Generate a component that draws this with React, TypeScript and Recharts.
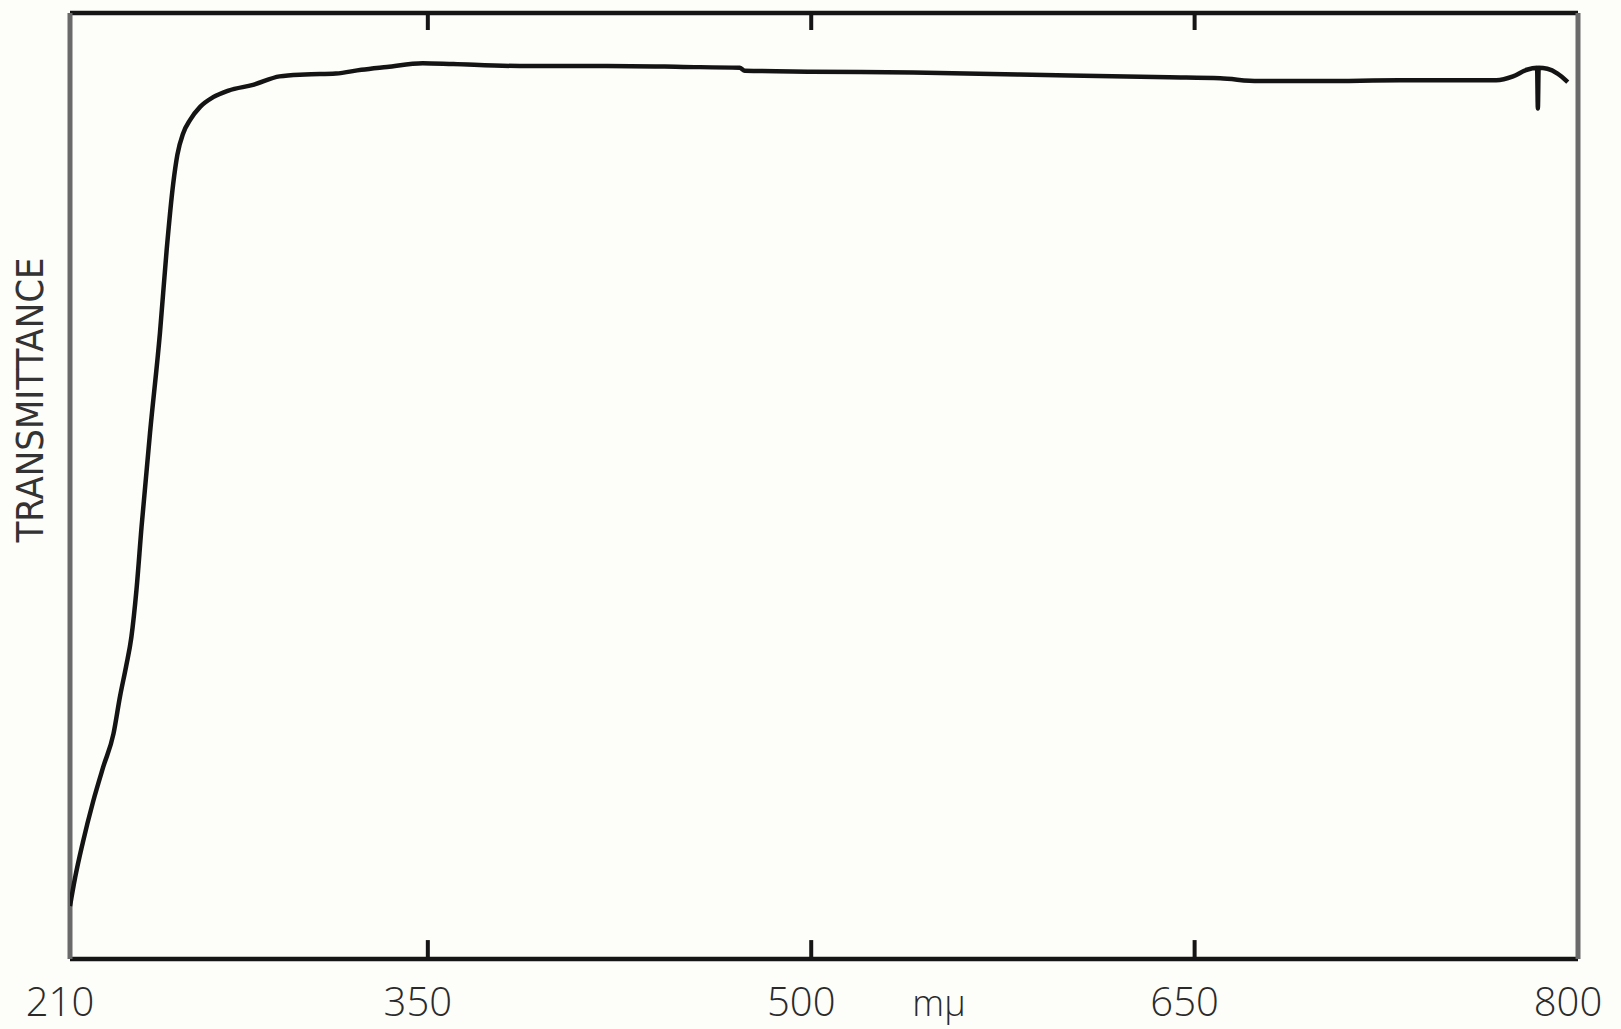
import React from 'react';
import { LineChart, Line, XAxis, YAxis, ReferenceLine } from 'recharts';

// wavelength (mμ) and transmittance
const wavelengths = [
  210, 212, 215, 219, 223, 227, 229.6, 232, 234, 236, 238, 241.3, 245.2, 247.8, 250.4, 252, 254.3,
  257, 261, 266, 272, 281.6, 292, 302, 314, 324, 334, 348, 360, 386, 420, 450, 472, 474, 500, 540,
  601, 640, 660, 675, 700, 730, 768, 774.6, 780, 784, 784.3, 784.6, 788, 792, 796,
];
const transmittance = [
  5.6, 8.6, 12.3, 16.6, 20.3, 23.8, 27.8, 31, 34, 39, 45.7, 55.6, 66.2, 74.9, 82, 85, 87.3,
  88.7, 90.1, 91.1, 91.8, 92.4, 93.3, 93.5, 93.6, 94.0, 94.3, 94.7, 94.6, 94.4, 94.4, 94.3, 94.2, 93.9, 93.8, 93.7,
  93.4, 93.2, 93.1, 92.8, 92.8, 92.9, 92.9, 93.3, 94.0, 94.2, 89.9, 94.2, 94.1, 93.6, 92.7,
];
const xTicks = [210, 350, 500, 650, 800];
const innerTicks = [350, 500, 650];
const yTitle = 'TRANSMITTANCE';
const xUnit = 'mμ';

const data = wavelengths.map((wl, i) => ({ wl, t: transmittance[i] }));

const labelFont = "'Open Sans', 'DejaVu Sans', sans-serif";

const XTick = (props: any) => (
  <text
    x={props.x - 10}
    y={props.y + 57}
    textAnchor="middle"
    fontFamily={labelFont}
    fontWeight={300}
    fontSize={40}
    fill="#2a2a2a"
  >
    {props.payload.value}
  </text>
);

const App: React.FC = () => {
  return (
    <div style={{ position: 'absolute', left: 0, top: 0, width: 1621, height: 1029, background: '#fdfdf9' }}>
      <LineChart width={1621} height={1029} data={data} margin={{ top: 13, right: 43, left: 0, bottom: 0 }}>
        <XAxis
          dataKey="wl"
          type="number"
          domain={[210, 800]}
          ticks={xTicks}
          allowDataOverflow
          axisLine={false}
          tickLine={false}
          tickSize={0}
          tickMargin={0}
          height={70}
          tick={<XTick />}
          label={{
            content: () => (
              <text x={939} y={1016} textAnchor="middle" fontFamily={labelFont} fontWeight={300} fontSize={36} fill="#2a2a2a">
                {xUnit}
              </text>
            ),
          }}
        />
        <YAxis
          type="number"
          domain={[0, 100]}
          width={70}
          tick={false}
          axisLine={false}
          tickLine={false}
          label={{
            content: () => (
              <text
                x={43}
                y={400}
                transform="rotate(-90 43 400)"
                textAnchor="middle"
                fontFamily="'Liberation Sans Narrow', 'DejaVu Sans Condensed', 'Liberation Sans', sans-serif"
                fontSize={38}
                textLength={285}
                lengthAdjust="spacingAndGlyphs"
                fill="#333"
              >
                {yTitle}
              </text>
            ),
          }}
        />
        <ReferenceLine y={100} stroke="#151515" strokeWidth={4.5} />
        <ReferenceLine y={0} stroke="#151515" strokeWidth={4.5} />
        <ReferenceLine x={210} stroke="#6a6a6a" strokeWidth={5} />
        <ReferenceLine x={800} stroke="#6a6a6a" strokeWidth={5} />
        {innerTicks.map((v) => (
          <ReferenceLine key={`b${v}`} segment={[{ x: v, y: 0 }, { x: v, y: 2 }]} stroke="#151515" strokeWidth={4} />
        ))}
        {innerTicks.map((v) => (
          <ReferenceLine key={`t${v}`} segment={[{ x: v, y: 100 }, { x: v, y: 98.2 }]} stroke="#151515" strokeWidth={4} />
        ))}
        <Line
          type="monotone"
          dataKey="t"
          stroke="#141414"
          strokeWidth={4.5}
          dot={false}
          isAnimationActive={false}
        />
      </LineChart>
    </div>
  );
};

export default App;
